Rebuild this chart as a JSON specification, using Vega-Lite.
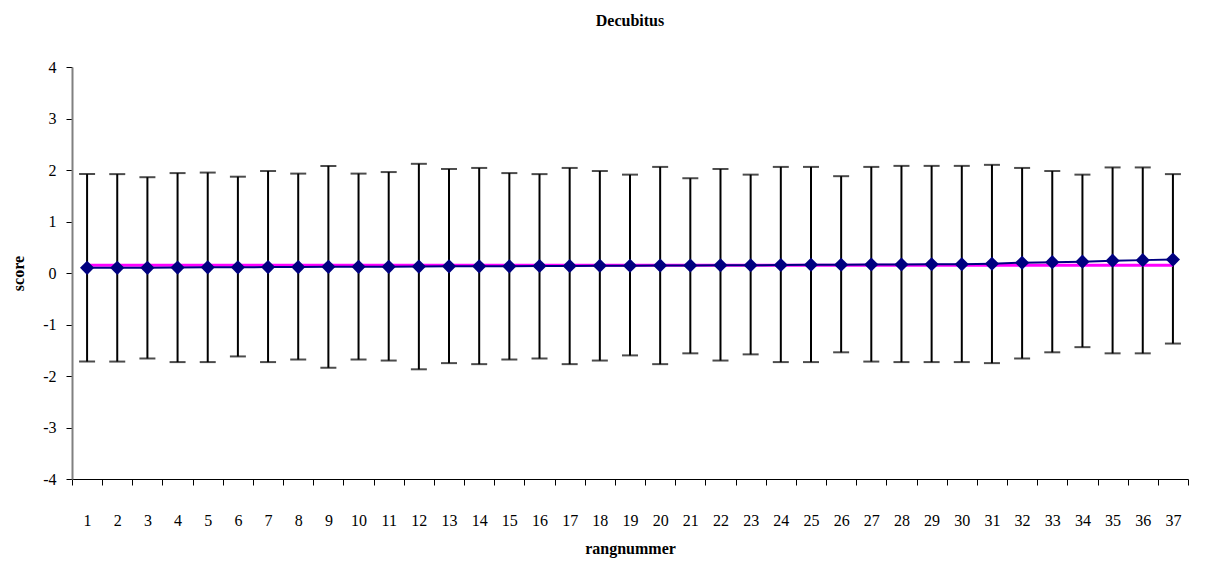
{
  "$schema": "https://vega.github.io/schema/vega-lite/v6.json",
  "autosize": "none",
  "width": 1116,
  "height": 412,
  "padding": {"left": 72, "top": 67, "right": 19, "bottom": 85},
  "background": "white",
  "title": {"text": "Decubitus", "font": "Times New Roman, Liberation Serif, serif", "fontSize": 16, "fontWeight": "bold", "color": "#000", "anchor": "middle", "offset": 30},
  "config": {"view": {"stroke": null}, "font": "Times New Roman, Liberation Serif, serif"},
  "data": {"values": [
    {"r": 1, "mean": 0.10, "lo": -1.72, "hi": 1.92},
    {"r": 2, "mean": 0.10, "lo": -1.72, "hi": 1.92},
    {"r": 3, "mean": 0.10, "lo": -1.66, "hi": 1.86},
    {"r": 4, "mean": 0.105, "lo": -1.73, "hi": 1.94},
    {"r": 5, "mean": 0.11, "lo": -1.73, "hi": 1.95},
    {"r": 6, "mean": 0.11, "lo": -1.62, "hi": 1.87},
    {"r": 7, "mean": 0.115, "lo": -1.73, "hi": 1.98},
    {"r": 8, "mean": 0.115, "lo": -1.68, "hi": 1.93},
    {"r": 9, "mean": 0.12, "lo": -1.84, "hi": 2.08},
    {"r": 10, "mean": 0.12, "lo": -1.68, "hi": 1.93},
    {"r": 11, "mean": 0.12, "lo": -1.70, "hi": 1.96},
    {"r": 12, "mean": 0.125, "lo": -1.87, "hi": 2.12},
    {"r": 13, "mean": 0.13, "lo": -1.75, "hi": 2.02},
    {"r": 14, "mean": 0.13, "lo": -1.77, "hi": 2.04},
    {"r": 15, "mean": 0.13, "lo": -1.68, "hi": 1.94},
    {"r": 16, "mean": 0.135, "lo": -1.66, "hi": 1.92},
    {"r": 17, "mean": 0.135, "lo": -1.77, "hi": 2.04},
    {"r": 18, "mean": 0.14, "lo": -1.70, "hi": 1.98},
    {"r": 19, "mean": 0.14, "lo": -1.60, "hi": 1.91},
    {"r": 20, "mean": 0.145, "lo": -1.77, "hi": 2.06},
    {"r": 21, "mean": 0.145, "lo": -1.56, "hi": 1.84},
    {"r": 22, "mean": 0.15, "lo": -1.70, "hi": 2.02},
    {"r": 23, "mean": 0.15, "lo": -1.58, "hi": 1.91},
    {"r": 24, "mean": 0.155, "lo": -1.73, "hi": 2.06},
    {"r": 25, "mean": 0.16, "lo": -1.73, "hi": 2.06},
    {"r": 26, "mean": 0.16, "lo": -1.54, "hi": 1.88},
    {"r": 27, "mean": 0.165, "lo": -1.72, "hi": 2.06},
    {"r": 28, "mean": 0.165, "lo": -1.73, "hi": 2.08},
    {"r": 29, "mean": 0.17, "lo": -1.73, "hi": 2.08},
    {"r": 30, "mean": 0.17, "lo": -1.73, "hi": 2.08},
    {"r": 31, "mean": 0.18, "lo": -1.75, "hi": 2.10},
    {"r": 32, "mean": 0.20, "lo": -1.66, "hi": 2.04},
    {"r": 33, "mean": 0.21, "lo": -1.54, "hi": 1.98},
    {"r": 34, "mean": 0.22, "lo": -1.44, "hi": 1.91},
    {"r": 35, "mean": 0.24, "lo": -1.56, "hi": 2.05},
    {"r": 36, "mean": 0.25, "lo": -1.56, "hi": 2.05},
    {"r": 37, "mean": 0.26, "lo": -1.37, "hi": 1.92}
  ]},
  "encoding": {
    "x": {
      "field": "r", "type": "ordinal",
      "scale": {"paddingInner": 0, "paddingOuter": 0},
      "axis": {
        "title": "rangnummer", "titleFont": "Times New Roman, Liberation Serif, serif", "titleFontSize": 16, "titleFontWeight": "bold", "titleColor": "#000", "titlePadding": 12,
        "labelAngle": 0, "labelFont": "Times New Roman, Liberation Serif, serif", "labelFontSize": 16, "labelColor": "#000", "labelPadding": 27,
        "tickBand": "extent", "tickSize": 6, "tickColor": "#000", "domainColor": "#000", "domainWidth": 1, "grid": false
      }
    }
  },
  "layer": [
    {
      "mark": {"type": "rule", "color": "#000", "strokeWidth": 2},
      "encoding": {
        "y": {"field": "lo", "type": "quantitative",
          "scale": {"domain": [-4, 4], "nice": false, "zero": false},
          "axis": {
            "title": "score", "titleFont": "Times New Roman, Liberation Serif, serif", "titleFontSize": 16, "titleFontWeight": "bold", "titleColor": "#000", "titlePadding": 16,
            "values": [-4, -3, -2, -1, 0, 1, 2, 3, 4], "labelExpr": "datum.value + ''",
            "labelFont": "Times New Roman, Liberation Serif, serif", "labelFontSize": 16, "labelColor": "#000", "labelPadding": 10,
            "tickSize": 6, "tickColor": "#000", "domainColor": "#808080", "domainWidth": 2, "grid": false
          }
        },
        "y2": {"field": "hi"}
      }
    },
    {
      "mark": {"type": "tick", "color": "#000", "thickness": 2, "size": 16, "orient": "horizontal"},
      "encoding": {"y": {"field": "hi", "type": "quantitative"}}
    },
    {
      "mark": {"type": "tick", "color": "#000", "thickness": 2, "size": 16, "orient": "horizontal"},
      "encoding": {"y": {"field": "lo", "type": "quantitative"}}
    },
    {
      "mark": {"type": "line", "color": "#FF00FF", "strokeWidth": 3},
      "encoding": {"y": {"datum": 0.15, "type": "quantitative"}}
    },
    {
      "mark": {"type": "line", "color": "#000080", "strokeWidth": 2},
      "encoding": {"y": {"field": "mean", "type": "quantitative"}}
    },
    {
      "mark": {"type": "point", "shape": "diamond", "filled": true, "color": "#000080", "size": 200, "opacity": 1},
      "encoding": {"y": {"field": "mean", "type": "quantitative"}}
    }
  ]
}
